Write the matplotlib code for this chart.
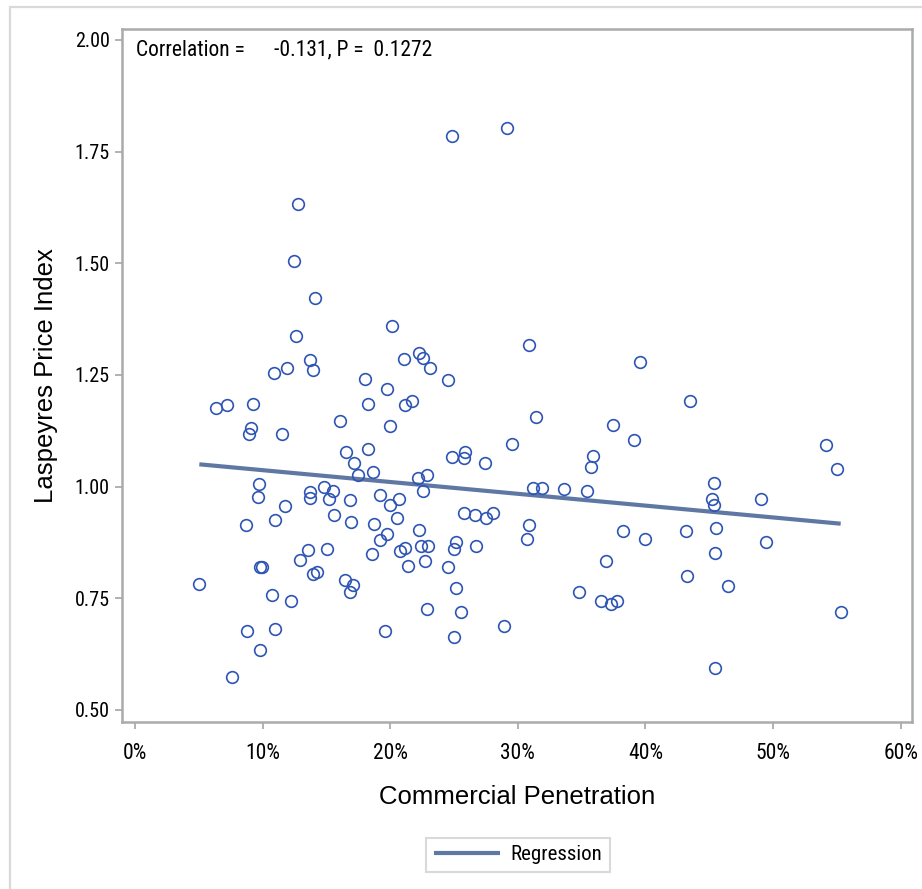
import numpy as np
import matplotlib
matplotlib.use("Agg")
import matplotlib.pyplot as plt
from matplotlib import font_manager
from matplotlib.ticker import FuncFormatter, FixedLocator
from matplotlib.patches import Rectangle
from matplotlib.transforms import IdentityTransform

# Commercial penetration (share) and Laspeyres price index per observation
penetration = [
    0.0504, 0.0635, 0.0721, 0.0758, 0.0873, 0.0880, 0.0893, 0.0909, 0.0925, 0.0969,
    0.0961, 0.0993, 0.0982, 0.0982, 0.1071, 0.1092, 0.1097, 0.1100, 0.1150, 0.1178,
    0.1191, 0.1223, 0.1244, 0.1260, 0.1280, 0.1296, 0.1353, 0.1369, 0.1374, 0.1374,
    0.1397, 0.1410, 0.1397, 0.1429, 0.1484, 0.1505, 0.1520, 0.1552, 0.1557, 0.1607,
    0.1643, 0.1651, 0.1685, 0.1693, 0.1685, 0.1711, 0.1714, 0.1745, 0.1803, 0.1826,
    0.1826, 0.1855, 0.1868, 0.1876, 0.1920, 0.1920, 0.1957, 0.1977, 0.1978, 0.1998,
    0.1998, 0.2014, 0.2051, 0.2066, 0.2077, 0.2116, 0.2108, 0.2118, 0.2137, 0.2168,
    0.2215, 0.2286, 0.2260, 0.2223, 0.2239, 0.2299, 0.2273, 0.2290, 0.2223, 0.2255,
    0.2310, 0.2450, 0.2484, 0.2915, 0.3088, 0.3958, 0.3145, 0.3749, 0.3910, 0.2952,
    0.2487, 0.2589, 0.2581, 0.2740, 0.3592, 0.3574, 0.3117, 0.3187, 0.3365, 0.3540,
    0.2581, 0.2667, 0.2748, 0.2808, 0.3088, 0.3072, 0.2516, 0.2502, 0.2675, 0.2450,
    0.2516, 0.2552, 0.2500, 0.2894, 0.3822, 0.3995, 0.3691, 0.3482, 0.3650, 0.3728,
    0.3775, 0.4352, 0.5413, 0.5499, 0.4535, 0.4522, 0.4535, 0.4904, 0.4316, 0.4556,
    0.4948, 0.4545, 0.4324, 0.4650, 0.5530, 0.4548,
]
price_index = [
    0.783, 1.176, 1.183, 0.574, 0.913, 0.677, 1.118, 1.131, 1.186, 1.006,
    0.976, 0.821, 0.819, 0.635, 0.757, 1.255, 0.925, 0.681, 1.117, 0.957,
    1.265, 0.743, 1.506, 1.337, 1.633, 0.836, 0.858, 0.989, 0.975, 1.284,
    1.260, 1.422, 0.805, 0.808, 0.999, 0.860, 0.972, 0.990, 0.937, 1.146,
    0.791, 1.077, 0.969, 0.921, 0.764, 0.779, 1.053, 1.026, 1.241, 1.186,
    1.084, 0.849, 1.032, 0.916, 0.981, 0.881, 0.677, 1.218, 0.894, 0.958,
    1.136, 1.360, 0.929, 0.972, 0.855, 0.862, 1.286, 1.182, 0.823, 1.192,
    1.019, 1.025, 0.991, 0.903, 0.868, 0.866, 0.834, 0.725, 1.300, 1.289,
    1.265, 1.239, 1.784, 1.802, 1.318, 1.278, 1.157, 1.138, 1.104, 1.096,
    1.066, 1.078, 1.064, 1.054, 1.069, 1.043, 0.998, 0.998, 0.995, 0.990,
    0.940, 0.937, 0.929, 0.940, 0.913, 0.882, 0.877, 0.860, 0.868, 0.820,
    0.773, 0.720, 0.664, 0.688, 0.901, 0.882, 0.834, 0.765, 0.743, 0.737,
    0.744, 1.191, 1.093, 1.040, 1.008, 0.972, 0.959, 0.973, 0.900, 0.908,
    0.876, 0.852, 0.799, 0.778, 0.720, 0.593,
]

# fitted regression line: intercept and slope
reg_intercept = 1.0633
reg_slope = -0.2646

x_ticks = [0.0, 0.1, 0.2, 0.3, 0.4, 0.5, 0.6]
y_ticks = [0.50, 0.75, 1.00, 1.25, 1.50, 1.75, 2.00]
corr_label = "Correlation ="
corr_value = "-0.131, P =  0.1272"

available = sorted({f.name for f in font_manager.fontManager.ttflist})
narrow = "Liberation Sans"
for cand in ["Liberation Sans Narrow", "Arial Narrow", "Roboto Condensed",
             "Open Sans Condensed", "Noto Sans Condensed"]:
    if cand in available:
        narrow = cand
        break
wide = "Liberation Sans"

x = np.array(penetration)
y = np.array(price_index)
x_line = np.array([x.min(), x.max()])
y_line = reg_intercept + reg_slope * x_line

W, H, DPI = 922, 889, 100
fig = plt.figure(figsize=(W / DPI, H / DPI), dpi=DPI)
fig.patch.set_facecolor("white")

# light outer frame around the graph
fig.patches.append(Rectangle((10 / W, -0.05), 1.2, 1 - 7 / H + 0.05,
                             transform=fig.transFigure, fill=False,
                             edgecolor="#d9d9d9", linewidth=1.6, zorder=0))

ax = fig.add_axes([122 / W, 1 - 722 / H, (912 - 122) / W, (722 - 29) / H])
ax.set_xlim(-0.0102, 0.6089)
ax.set_ylim(0.473, 2.0246)

marker_color = "#2e55b4"
line_color = "#5f78a3"
frame_color = "#a9abad"

ax.plot(x, y, linestyle="none", marker="o", markersize=8.4,
        markerfacecolor="none", markeredgecolor=marker_color,
        markeredgewidth=1.2, zorder=3)
reg, = ax.plot(x_line, y_line, color=line_color, linewidth=3,
               solid_capstyle="butt", zorder=2, label="Regression")

for s in ax.spines.values():
    s.set_color(frame_color)
    s.set_linewidth(1.8)

ax.xaxis.set_major_locator(FixedLocator(x_ticks))
ax.yaxis.set_major_locator(FixedLocator(y_ticks))
ax.xaxis.set_major_formatter(FuncFormatter(lambda v, p: f"{v * 100:.0f}%"))
ax.yaxis.set_major_formatter(FuncFormatter(lambda v, p: f"{v:.2f}"))
ax.tick_params(axis="both", direction="out", length=5, width=1.3,
               color=frame_color, labelcolor="black")
ax.tick_params(axis="y", pad=4, labelsize=14.5)
ax.tick_params(axis="x", pad=10, labelsize=15.5)
for lab in ax.get_xticklabels() + ax.get_yticklabels():
    lab.set_fontfamily(narrow)

ax.set_xlabel("Commercial Penetration", fontsize=18.5, fontfamily=wide, labelpad=15)
ax.set_ylabel("Laspeyres Price Index", fontsize=18.5, fontfamily=wide, labelpad=12)

ax.text(136, H - 50, corr_label, transform=IdentityTransform(), fontsize=15.5,
        fontfamily=narrow, va="center", ha="left")
ax.text(274, H - 50, corr_value, transform=IdentityTransform(), fontsize=15.5,
        fontfamily=narrow, va="center", ha="left")

leg = fig.legend(handles=[reg], loc="center", bbox_to_anchor=(518 / W, 1 - 855 / H),
                 frameon=True, fancybox=False, edgecolor="#d0d0d0",
                 prop={"family": narrow, "size": 15}, handlelength=3.2,
                 handletextpad=0.5, borderpad=0.35, borderaxespad=0)
leg.get_frame().set_linewidth(1.5)

fig.savefig("out.png", dpi=DPI, facecolor="white")
